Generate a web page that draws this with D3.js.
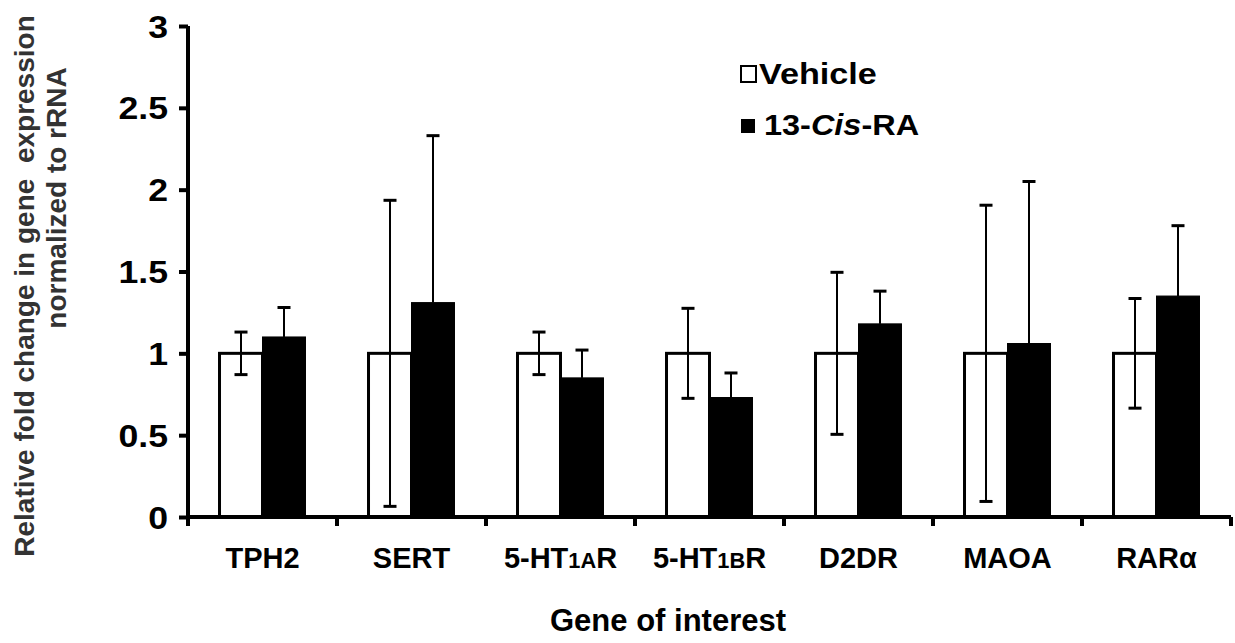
<!DOCTYPE html>
<html>
<head>
<meta charset="utf-8">
<script src="https://cdn.jsdelivr.net/npm/d3@7"></script>
<style>
  html, body { margin: 0; padding: 0; background: #fff; }
  svg { display: block; }
  text { font-family: "Liberation Sans", Arial, sans-serif; font-weight: bold; }
</style>
</head>
<body>
<svg id="chart" width="1235" height="643"></svg>
<script>
// Genes measured, and the two treatment groups
const genes = ["TPH2", "SERT", "5-HT1AR", "5-HT1BR", "D2DR", "MAOA", "RARα"];
const groups = ["Vehicle", "13-Cis-RA"];

// Mean relative fold change (normalized to rRNA)
const vehicleMean = [1.00, 1.00, 1.00, 1.00, 1.00, 1.00, 1.00];
const cisRAMean   = [1.10, 1.31, 0.85, 0.73, 1.18, 1.06, 1.35];

// Error bar half-lengths
const vehicleErr = [0.13, 0.935, 0.13, 0.275, 0.495, 0.905, 0.335];
const cisRAErr   = [0.18, 1.02, 0.17, 0.15, 0.20, 0.99, 0.43];

// Y axis tick values
const yTicks = [0, 0.5, 1, 1.5, 2, 2.5, 3];

const svg = d3.select("#chart");

const plot = { left: 188, right: 1231, top: 26, bottom: 517 };

const x = d3.scaleBand()
  .domain(genes)
  .range([plot.left, plot.right])
  .paddingInner(0)
  .paddingOuter(0);

const xSub = d3.scaleBand()
  .domain(groups)
  .range([0, x.bandwidth()])
  .paddingInner(0)
  .paddingOuter(0.733);

const y = d3.scaleLinear()
  .domain([0, 3])
  .range([plot.bottom, plot.top]);

const rows = genes.map((g, i) => ({
  gene: g,
  bars: [
    { group: "Vehicle", value: vehicleMean[i], err: vehicleErr[i], both: true },
    { group: "13-Cis-RA", value: cisRAMean[i], err: cisRAErr[i], both: false }
  ]
}));

// Bars
const groupSel = svg.append("g").selectAll("g")
  .data(rows)
  .join("g")
  .attr("transform", d => `translate(${x(d.gene)},0)`);

groupSel.selectAll("rect")
  .data(d => d.bars)
  .join("rect")
  .attr("x", d => xSub(d.group))
  .attr("y", d => y(d.value))
  .attr("width", xSub.bandwidth())
  .attr("height", d => y(0) - y(d.value))
  .attr("fill", d => d.group === "Vehicle" ? "#fff" : "#000")
  .attr("stroke", "#000")
  .attr("stroke-width", d => d.group === "Vehicle" ? 3 : 1);

// Error bars
const capW = 13;
const eb = groupSel.selectAll("g.err")
  .data(d => d.bars)
  .join("g")
  .attr("class", "err")
  .attr("transform", d => `translate(${xSub(d.group) + xSub.bandwidth() / 2},0)`);

eb.append("line")
  .attr("x1", 0).attr("x2", 0)
  .attr("y1", d => y(d.value + d.err))
  .attr("y2", d => y(d.both ? d.value - d.err : d.value))
  .attr("stroke", "#000").attr("stroke-width", 2);

eb.append("line")
  .attr("x1", -capW / 2).attr("x2", capW / 2)
  .attr("y1", d => y(d.value + d.err))
  .attr("y2", d => y(d.value + d.err))
  .attr("stroke", "#000").attr("stroke-width", 3);

eb.filter(d => d.both).append("line")
  .attr("x1", -capW / 2).attr("x2", capW / 2)
  .attr("y1", d => y(d.value - d.err))
  .attr("y2", d => y(d.value - d.err))
  .attr("stroke", "#000").attr("stroke-width", 3);

// Y axis
const yAxis = svg.append("g")
  .attr("transform", `translate(${plot.left},0)`)
  .call(d3.axisLeft(y).tickValues(yTicks).tickSize(9).tickPadding(10)
    .tickFormat(d => String(d)));
yAxis.select(".domain").attr("stroke", "#000").attr("stroke-width", 4)
  .attr("d", `M0,${y(3)}V${y(0)}`);
yAxis.selectAll(".tick line").attr("stroke", "#000").attr("stroke-width", 4);
// bold numerals, right-aligned next to the tick marks
yAxis.selectAll(".tick text")
  .attr("font-size", 31)
  .attr("fill", "#000")
  .attr("x", 0)
  .attr("dy", "0.36em")
  .attr("transform", "translate(-20,0) scale(1.15,1)");

// X axis line and boundary ticks
const xAxis = svg.append("g").attr("transform", `translate(0,${plot.bottom})`);
xAxis.append("line")
  .attr("x1", plot.left).attr("x2", plot.right)
  .attr("y1", 0).attr("y2", 0)
  .attr("stroke", "#000").attr("stroke-width", 4);
const bounds = genes.map(g => x(g)).concat([x.range()[1]]);
xAxis.selectAll("line.tk")
  .data(bounds)
  .join("line")
  .attr("class", "tk")
  .attr("x1", d => d).attr("x2", d => d)
  .attr("y1", 0).attr("y2", 9)
  .attr("stroke", "#000").attr("stroke-width", 4);

// Category labels (receptor subtypes set in smaller type)
const labelParts = {
  "5-HT1AR": [["5-HT", 1], ["1A", 0.75], ["R", 1]],
  "5-HT1BR": [["5-HT", 1], ["1B", 0.75], ["R", 1]]
};
const labelSize = 29;
const lab = xAxis.selectAll("text.cat")
  .data(genes)
  .join("text")
  .attr("class", "cat")
  .attr("x", d => x(d) + x.bandwidth() / 2)
  .attr("y", 51)
  .attr("text-anchor", "middle")
  .attr("font-size", labelSize)
  .attr("fill", "#000");
lab.each(function(d) {
  const t = d3.select(this);
  const parts = labelParts[d] || [[d, 1]];
  parts.forEach(p => t.append("tspan").attr("font-size", labelSize * p[1]).text(p[0]));
});

// Axis titles
svg.append("text")
  .attr("x", 668).attr("y", 631)
  .attr("text-anchor", "middle")
  .attr("font-size", 31)
  .attr("fill", "#000")
  .text("Gene of interest");

svg.append("text")
  .attr("transform", "translate(34,286) rotate(-90)")
  .attr("text-anchor", "middle")
  .attr("font-size", 28)
  .attr("fill", "#333")
  .style("white-space", "pre")
  .text("Relative fold change in gene  expression");

svg.append("text")
  .attr("transform", "translate(66,198) rotate(-90)")
  .attr("text-anchor", "middle")
  .attr("font-size", 28)
  .attr("fill", "#333")
  .text("normalized to rRNA");

// Legend
const legend = svg.append("g");
legend.append("rect")
  .attr("x", 741).attr("y", 66).attr("width", 15).attr("height", 16)
  .attr("fill", "#fff").attr("stroke", "#000").attr("stroke-width", 2);
legend.append("text")
  .attr("transform", "translate(759,84) scale(1.18,1)")
  .attr("font-size", 29).attr("fill", "#000")
  .text(groups[0]);
legend.append("rect")
  .attr("x", 741).attr("y", 119).attr("width", 14).attr("height", 14)
  .attr("fill", "#000");
const lt = legend.append("text")
  .attr("transform", "translate(764,135) scale(1.12,1)")
  .attr("font-size", 29).attr("fill", "#000");
lt.append("tspan").text("13-");
lt.append("tspan").attr("font-style", "italic").text("Cis");
lt.append("tspan").text("-RA");
</script>
</body>
</html>
